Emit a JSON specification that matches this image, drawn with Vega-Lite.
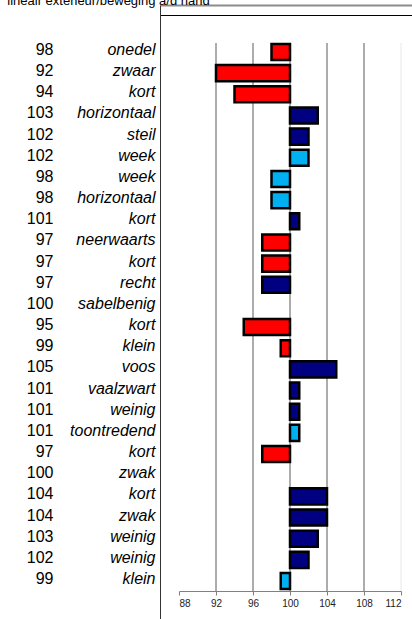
{
  "$schema": "https://vega.github.io/schema/vega-lite/v6.json",
  "autosize": {"type": "none"},
  "padding": {"left": 160, "top": 15, "right": 0, "bottom": 0},
  "width": 252,
  "height": 604,
  "background": "white",
  "title": {
    "text": "lineair exterieur/beweging a/d hand",
    "anchor": "start",
    "font": "Liberation Sans",
    "fontSize": 13,
    "fontWeight": "normal",
    "color": "#000000",
    "baseline": "alphabetic",
    "offset": 0,
    "dx": -19,
    "dy": 13
  },
  "config": {
    "view": {"stroke": null},
    "axis": {"labelFont": "Liberation Sans", "titleFont": "Liberation Sans"}
  },
  "datasets": {
    "rows": [
      {"key": "01|98|onedel", "score": 98, "cat": "rood"},
      {"key": "02|92|zwaar", "score": 92, "cat": "rood"},
      {"key": "03|94|kort", "score": 94, "cat": "rood"},
      {"key": "04|103|horizontaal", "score": 103, "cat": "blauw"},
      {"key": "05|102|steil", "score": 102, "cat": "blauw"},
      {"key": "06|102|week", "score": 102, "cat": "lichtblauw"},
      {"key": "07|98|week", "score": 98, "cat": "lichtblauw"},
      {"key": "08|98|horizontaal", "score": 98, "cat": "lichtblauw"},
      {"key": "09|101|kort", "score": 101, "cat": "blauw"},
      {"key": "10|97|neerwaarts", "score": 97, "cat": "rood"},
      {"key": "11|97|kort", "score": 97, "cat": "rood"},
      {"key": "12|97|recht", "score": 97, "cat": "blauw"},
      {"key": "13|100|sabelbenig", "score": 100, "cat": "geen"},
      {"key": "14|95|kort", "score": 95, "cat": "rood"},
      {"key": "15|99|klein", "score": 99, "cat": "rood"},
      {"key": "16|105|voos", "score": 105, "cat": "blauw"},
      {"key": "17|101|vaalzwart", "score": 101, "cat": "blauw"},
      {"key": "18|101|weinig", "score": 101, "cat": "blauw"},
      {"key": "19|101|toontredend", "score": 101, "cat": "lichtblauw"},
      {"key": "20|97|kort", "score": 97, "cat": "rood"},
      {"key": "21|100|zwak", "score": 100, "cat": "geen"},
      {"key": "22|104|kort", "score": 104, "cat": "blauw"},
      {"key": "23|104|zwak", "score": 104, "cat": "blauw"},
      {"key": "24|103|weinig", "score": 103, "cat": "blauw"},
      {"key": "25|102|weinig", "score": 102, "cat": "blauw"},
      {"key": "26|99|klein", "score": 99, "cat": "lichtblauw"}
    ],
    "grid": [
      {"g": 92}, {"g": 96}, {"g": 100}, {"g": 104}, {"g": 108}, {"g": 112}
    ],
    "frame": [{"f": 0}]
  },
  "layer": [
    {
      "data": {"name": "frame"},
      "mark": {"type": "rule", "strokeOpacity": 0},
      "encoding": {
        "x": {"datum": 0, "type": "quantitative", "scale": {"domain": [0, 1]},
          "axis": {"orient": "top", "offset": 10, "domainColor": "#8c8c8c", "domainWidth": 2, "ticks": false, "labels": false, "grid": false, "title": null}},
        "y": {"datum": 0, "type": "quantitative", "scale": {"domain": [0, 1], "range": [604, -10]},
          "axis": {"orient": "left", "offset": 0, "domainColor": "#333333", "domainWidth": 1, "ticks": false, "labels": false, "grid": false, "title": null}}
      }
    },
    {
      "data": {"name": "grid"},
      "mark": {"type": "rule", "strokeWidth": 1},
      "encoding": {
        "x": {"field": "g", "type": "quantitative", "scale": {"domain": [88, 112], "range": [19, 241]}, "axis": null},
        "y": {"datum": 0, "type": "quantitative", "scale": {"domain": [0, 1], "range": [28, 576]}, "axis": null},
        "y2": {"datum": 1},
        "color": {"condition": {"test": "datum.g === 112", "value": "#e8e8e8"}, "value": "#5a5a5a"}
      }
    },
    {
      "data": {"name": "rows"},
      "mark": {"type": "text", "text": ""},
      "encoding": {
        "x": {"datum": 0, "type": "quantitative", "scale": {"domain": [0, 1]},
          "axis": {"orient": "top", "offset": 0, "domainColor": "#000000", "domainWidth": 1, "ticks": false, "labels": false, "grid": false, "title": null}},
        "y": {"field": "key", "type": "nominal", "sort": null,
          "scale": {"type": "band", "range": [26.4, 576.6], "paddingInner": 0.24, "paddingOuter": 0.12},
          "axis": {"orient": "left", "offset": 102, "labelPadding": 5, "labelOffset": -2, "ticks": false, "domain": false, "grid": false, "title": null,
            "labelExpr": "split(datum.value, '|')[1]", "labelFontSize": 16, "labelColor": "#000000", "labelFont": "Liberation Sans", "labelAlign": "right", "labelBaseline": "middle"}}
      }
    },
    {
      "data": {"name": "rows"},
      "mark": {"type": "bar", "stroke": "#000000"},
      "encoding": {
        "x": {"field": "score", "type": "quantitative", "scale": {"domain": [88, 112], "range": [19, 241], "zero": false},
          "axis": {"orient": "bottom", "offset": -28, "values": [88, 92, 96, 100, 104, 108, 112], "domainColor": "#808080", "tickColor": "#808080", "tickSize": 4, "labelFontSize": 10, "labelColor": "#222222", "labelPadding": 3, "grid": false, "title": null}},
        "x2": {"datum": 100},
        "y": {"field": "key", "type": "nominal", "sort": null,
          "scale": {"type": "band", "range": [26.4, 576.6], "paddingInner": 0.24, "paddingOuter": 0.12},
          "axis": {"orient": "left", "offset": 0, "labelPadding": 5, "labelOffset": -2, "ticks": false, "domain": false, "grid": false, "title": null,
            "labelExpr": "split(datum.value, '|')[2]", "labelFontSize": 16, "labelFontStyle": "italic", "labelColor": "#000000", "labelFont": "Liberation Sans", "labelAlign": "right", "labelBaseline": "middle", "labelLimit": 200}},
        "color": {"field": "cat", "type": "nominal",
          "scale": {"domain": ["rood", "blauw", "lichtblauw", "geen"], "range": ["#ff0000", "#000080", "#00b0f0", "#ffffff"]},
          "legend": null},
        "strokeWidth": {"condition": {"test": "datum.score === 100", "value": 0}, "value": 2.5}
      }
    }
  ],
  "resolve": {"scale": {"x": "independent", "y": "independent"}, "axis": {"x": "independent", "y": "independent"}}
}
